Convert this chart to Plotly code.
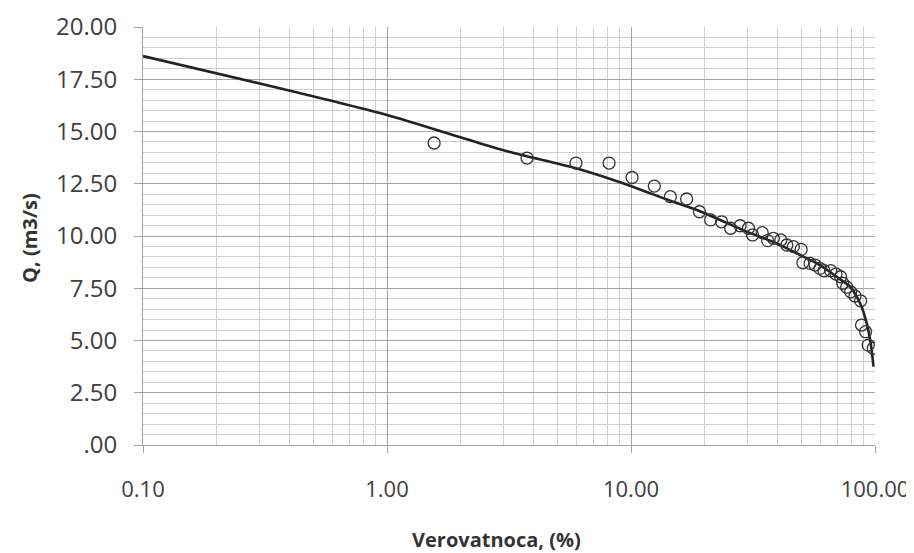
import plotly.graph_objects as go

# Observed points: exceedance probability (%) and discharge Q (m3/s)
obs_p = [1.56, 3.75, 5.95, 8.13, 10.1, 12.46, 14.5, 16.9, 19.07, 21.2, 23.5,
         25.6, 28.0, 30.3, 31.5, 34.5, 36.3, 38.3, 41.1, 43.5, 46.3, 49.8,
         50.6, 54.2, 56.8, 59.5, 61.8, 65.8, 69.2, 72.3, 73.8, 76.6, 79.5,
         82.8, 87.3, 88.1, 91.5, 93.8, 98.4]
obs_q = [14.45, 13.73, 13.49, 13.49, 12.80, 12.39, 11.88, 11.77, 11.16, 10.77,
         10.68, 10.37, 10.49, 10.37, 10.05, 10.16, 9.78, 9.89, 9.81, 9.57,
         9.49, 9.36, 8.72, 8.69, 8.61, 8.45, 8.34, 8.34, 8.18, 8.05, 7.74,
         7.55, 7.33, 7.13, 6.90, 5.74, 5.42, 4.78, 4.63]

# Fitted distribution curve
fit_p = [0.1, 0.316, 1.0, 2.0, 3.16, 5.95, 9.02, 14.5, 19.07, 29.8, 39.5,
         49.3, 59.5, 69.6, 79.0, 86.9, 92.5, 96.0, 98.6]
fit_q = [18.61, 17.24, 15.79, 14.72, 14.03, 13.24, 12.57, 11.69, 11.20,
         10.21, 9.65, 9.09, 8.61, 8.05, 7.57, 6.78, 5.82, 4.87, 3.75]

x_tickvals = [0.1, 1, 10, 100]
x_ticktext = ['0.10', '1.00', '10.00', '100.00']
x_minorvals = [0.2, 0.3, 0.4, 0.5, 0.6, 0.7, 0.8, 0.9,
               2, 3, 4, 5, 6, 7, 8, 9,
               20, 30, 40, 50, 60, 70, 80, 90]
y_tickvals = [0, 2.5, 5, 7.5, 10, 12.5, 15, 17.5, 20]
y_ticktext = ['.00', '2.50', '5.00', '7.50', '10.00', '12.50', '15.00', '17.50', '20.00']

_FONT = dict(family='Open Sans, sans-serif', size=24, color='#404040')
_TITLE_FONT = dict(family='Open Sans, sans-serif', size=20, color='#333333')
_GRID = '#cfcfcf'
_MAJOR = '#a3a3a3'

fig = go.Figure()
fig.add_trace(go.Scatter(
    x=fit_p, y=fit_q,
    mode='lines',
    line=dict(color='#222222', width=2.6, shape='spline', smoothing=0.8),
    showlegend=False,
))
fig.add_trace(go.Scatter(
    x=obs_p, y=obs_q,
    mode='markers',
    marker=dict(symbol='circle-open', size=12, color='#333333',
                line=dict(width=1.3, color='#333333')),
    showlegend=False,
))

# page body adds an 8px offset, so the figure is sized 8px smaller
fig.update_layout(
    width=906, height=545,
    margin=dict(l=135, r=39, t=19, b=108, autoexpand=False),
    paper_bgcolor='white',
    plot_bgcolor='white',
    font=_FONT,
    xaxis=dict(
        type='log', range=[-1, 2],
        automargin=False,
        tickvals=x_tickvals, ticktext=x_ticktext,
        tickfont=dict(size=22),
        ticks='outside', ticklen=7, tickcolor=_MAJOR,
        ticklabelstandoff=18,
        showgrid=True, gridcolor=_MAJOR, gridwidth=1,
        minor=dict(tickvals=x_minorvals, showgrid=True, gridcolor=_GRID,
                   gridwidth=1, ticks=''),
        showline=True, linecolor=_MAJOR,
        zeroline=False,
    ),
    yaxis=dict(
        range=[0, 20],
        automargin=False,
        tickvals=y_tickvals, ticktext=y_ticktext,
        ticks='outside', ticklen=8, tickcolor=_MAJOR,
        ticklabelstandoff=12,
        showgrid=True, gridcolor=_MAJOR, gridwidth=1,
        minor=dict(dtick=0.5, showgrid=True, gridcolor=_GRID, gridwidth=1,
                   ticks=''),
        showline=True, linecolor=_MAJOR,
        zeroline=False,
    ),
    annotations=[
        dict(text='<b>Verovatnoca, (%)</b>', xref='paper', yref='paper',
             x=0.4836, y=-0.227, xanchor='center', yanchor='middle',
             showarrow=False, font=_TITLE_FONT),
        dict(text='<b>Q, (m3/s)</b>', xref='paper', yref='paper',
             x=-0.156, y=0.495, xanchor='center', yanchor='middle',
             textangle=-90, showarrow=False, font=_TITLE_FONT),
    ],
)

fig.write_html('out.html')
